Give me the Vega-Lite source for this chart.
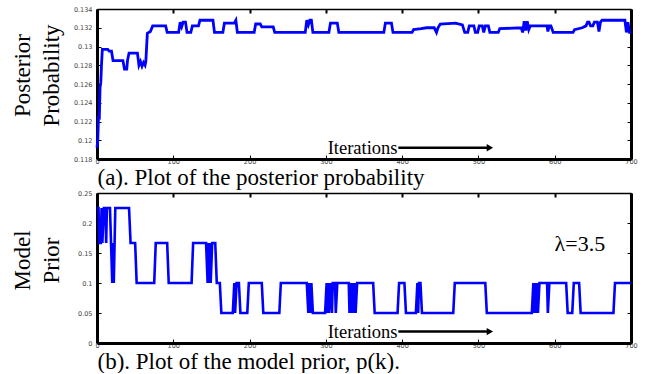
{
  "$schema": "https://vega.github.io/schema/vega-lite/v6.json",
  "background": "white",
  "padding": {"left": 11, "top": 6, "right": 0, "bottom": 0},
  "spacing": 34,
  "bounds": "flush",
  "config": {
    "view": {"stroke": null},
    "axis": {
      "grid": false,
      "domainColor": "black",
      "tickColor": "black",
      "labelFont": "DejaVu Sans",
      "labelFontSize": 6.5,
      "labelColor": "#444",
      "labelFlush": false,
      "titleFont": "Liberation Serif",
      "titleFontWeight": "normal",
      "titleColor": "black"
    }
  },
  "datasets": {
    "posterior": [
      {"iter": 0, "p": 0.1192}, {"iter": 1, "p": 0.1200}, {"iter": 2, "p": 0.1226}, {"iter": 3, "p": 0.1222},
      {"iter": 4, "p": 0.1256}, {"iter": 5, "p": 0.1262}, {"iter": 6, "p": 0.1282},
      {"iter": 7, "p": 0.1297}, {"iter": 14, "p": 0.1297}, {"iter": 16, "p": 0.1295}, {"iter": 19, "p": 0.1295},
      {"iter": 21, "p": 0.1285}, {"iter": 34, "p": 0.1285}, {"iter": 36, "p": 0.1276}, {"iter": 39, "p": 0.1276},
      {"iter": 40, "p": 0.1285}, {"iter": 42, "p": 0.1293}, {"iter": 53, "p": 0.1293}, {"iter": 55, "p": 0.1280},
      {"iter": 57, "p": 0.1284}, {"iter": 59, "p": 0.1279}, {"iter": 61, "p": 0.1283}, {"iter": 63, "p": 0.1280},
      {"iter": 64, "p": 0.1284}, {"iter": 66, "p": 0.1314}, {"iter": 70, "p": 0.1316}, {"iter": 73, "p": 0.1322},
      {"iter": 90, "p": 0.1322}, {"iter": 92, "p": 0.1315}, {"iter": 107, "p": 0.1315}, {"iter": 109, "p": 0.1326},
      {"iter": 111, "p": 0.1321}, {"iter": 113, "p": 0.1326}, {"iter": 116, "p": 0.1326}, {"iter": 118, "p": 0.1315},
      {"iter": 123, "p": 0.1315}, {"iter": 125, "p": 0.1322}, {"iter": 133, "p": 0.1322}, {"iter": 135, "p": 0.1328},
      {"iter": 152, "p": 0.1328}, {"iter": 154, "p": 0.1315}, {"iter": 165, "p": 0.1315}, {"iter": 167, "p": 0.1325},
      {"iter": 180, "p": 0.1325}, {"iter": 182, "p": 0.1328}, {"iter": 184, "p": 0.1315}, {"iter": 206, "p": 0.1315},
      {"iter": 208, "p": 0.1324}, {"iter": 214, "p": 0.1324}, {"iter": 216, "p": 0.1321}, {"iter": 231, "p": 0.1321},
      {"iter": 233, "p": 0.1315}, {"iter": 273, "p": 0.1315}, {"iter": 275, "p": 0.1328}, {"iter": 277, "p": 0.1323},
      {"iter": 279, "p": 0.1328}, {"iter": 281, "p": 0.1328}, {"iter": 283, "p": 0.1315}, {"iter": 304, "p": 0.1315},
      {"iter": 306, "p": 0.1325}, {"iter": 315, "p": 0.1325}, {"iter": 317, "p": 0.1315}, {"iter": 376, "p": 0.1315},
      {"iter": 378, "p": 0.1325}, {"iter": 386, "p": 0.1325}, {"iter": 388, "p": 0.1315}, {"iter": 413, "p": 0.1315},
      {"iter": 415, "p": 0.1318}, {"iter": 425, "p": 0.1319}, {"iter": 432, "p": 0.1320}, {"iter": 442, "p": 0.1320},
      {"iter": 445, "p": 0.1315}, {"iter": 447, "p": 0.1320}, {"iter": 450, "p": 0.1324}, {"iter": 470, "p": 0.1325},
      {"iter": 479, "p": 0.1323}, {"iter": 482, "p": 0.1315}, {"iter": 486, "p": 0.1315}, {"iter": 488, "p": 0.1322},
      {"iter": 494, "p": 0.1322}, {"iter": 496, "p": 0.1315}, {"iter": 499, "p": 0.1315}, {"iter": 501, "p": 0.1322},
      {"iter": 505, "p": 0.1322}, {"iter": 507, "p": 0.1315}, {"iter": 509, "p": 0.1322}, {"iter": 513, "p": 0.1322},
      {"iter": 515, "p": 0.1315}, {"iter": 526, "p": 0.1315}, {"iter": 528, "p": 0.1319}, {"iter": 556, "p": 0.1320},
      {"iter": 558, "p": 0.1315}, {"iter": 560, "p": 0.1327}, {"iter": 562, "p": 0.1317}, {"iter": 564, "p": 0.1327},
      {"iter": 566, "p": 0.1318}, {"iter": 568, "p": 0.1322}, {"iter": 590, "p": 0.1322}, {"iter": 591, "p": 0.1316},
      {"iter": 593, "p": 0.1322}, {"iter": 595, "p": 0.1322}, {"iter": 598, "p": 0.1315}, {"iter": 624, "p": 0.1315},
      {"iter": 626, "p": 0.1318}, {"iter": 636, "p": 0.1320}, {"iter": 641, "p": 0.1322}, {"iter": 643, "p": 0.1326},
      {"iter": 645, "p": 0.1326}, {"iter": 647, "p": 0.1322}, {"iter": 650, "p": 0.1322}, {"iter": 652, "p": 0.1326},
      {"iter": 656, "p": 0.1326}, {"iter": 658, "p": 0.1316}, {"iter": 660, "p": 0.1326}, {"iter": 662, "p": 0.1328},
      {"iter": 692, "p": 0.1328}, {"iter": 694, "p": 0.1315}, {"iter": 696, "p": 0.1326}, {"iter": 698, "p": 0.1315},
      {"iter": 700, "p": 0.1315}
    ],
    "prior": [
      {"iter": 0, "p": 0.225}, {"iter": 2, "p": 0.225}, {"iter": 3, "p": 0.1667}, {"iter": 5, "p": 0.1667},
      {"iter": 6, "p": 0.225}, {"iter": 7, "p": 0.1667}, {"iter": 9, "p": 0.225}, {"iter": 11, "p": 0.225},
      {"iter": 12, "p": 0.1667}, {"iter": 13, "p": 0.225}, {"iter": 17, "p": 0.225}, {"iter": 20, "p": 0.1},
      {"iter": 21, "p": 0.1667}, {"iter": 22, "p": 0.1}, {"iter": 24, "p": 0.225}, {"iter": 42, "p": 0.225},
      {"iter": 44, "p": 0.1667}, {"iter": 50, "p": 0.1667}, {"iter": 52, "p": 0.1}, {"iter": 75, "p": 0.1},
      {"iter": 77, "p": 0.1667}, {"iter": 92, "p": 0.1667}, {"iter": 94, "p": 0.1}, {"iter": 124, "p": 0.1},
      {"iter": 126, "p": 0.1667}, {"iter": 143, "p": 0.1667}, {"iter": 145, "p": 0.1}, {"iter": 146, "p": 0.1667},
      {"iter": 147, "p": 0.1}, {"iter": 148, "p": 0.1667}, {"iter": 149, "p": 0.1}, {"iter": 151, "p": 0.1667},
      {"iter": 155, "p": 0.1667}, {"iter": 157, "p": 0.1}, {"iter": 161, "p": 0.1}, {"iter": 163, "p": 0.05},
      {"iter": 178, "p": 0.05}, {"iter": 180, "p": 0.1}, {"iter": 181, "p": 0.05}, {"iter": 183, "p": 0.1},
      {"iter": 186, "p": 0.1}, {"iter": 188, "p": 0.05}, {"iter": 197, "p": 0.05}, {"iter": 199, "p": 0.1},
      {"iter": 216, "p": 0.1}, {"iter": 218, "p": 0.05}, {"iter": 239, "p": 0.05}, {"iter": 241, "p": 0.1},
      {"iter": 275, "p": 0.1}, {"iter": 277, "p": 0.05}, {"iter": 278, "p": 0.1}, {"iter": 280, "p": 0.05},
      {"iter": 281, "p": 0.1}, {"iter": 283, "p": 0.05}, {"iter": 299, "p": 0.05}, {"iter": 301, "p": 0.1},
      {"iter": 302, "p": 0.05}, {"iter": 303, "p": 0.1}, {"iter": 304, "p": 0.05}, {"iter": 306, "p": 0.1},
      {"iter": 308, "p": 0.05}, {"iter": 309, "p": 0.1}, {"iter": 312, "p": 0.1}, {"iter": 313, "p": 0.05},
      {"iter": 315, "p": 0.1}, {"iter": 330, "p": 0.1}, {"iter": 331, "p": 0.05}, {"iter": 332, "p": 0.1},
      {"iter": 334, "p": 0.05}, {"iter": 335, "p": 0.1}, {"iter": 337, "p": 0.05}, {"iter": 338, "p": 0.1},
      {"iter": 339, "p": 0.05}, {"iter": 341, "p": 0.1}, {"iter": 362, "p": 0.1}, {"iter": 364, "p": 0.05},
      {"iter": 394, "p": 0.05}, {"iter": 396, "p": 0.1}, {"iter": 403, "p": 0.1}, {"iter": 405, "p": 0.05},
      {"iter": 418, "p": 0.05}, {"iter": 420, "p": 0.1}, {"iter": 421, "p": 0.05}, {"iter": 422, "p": 0.1},
      {"iter": 424, "p": 0.1}, {"iter": 426, "p": 0.05}, {"iter": 467, "p": 0.05}, {"iter": 469, "p": 0.1},
      {"iter": 509, "p": 0.1}, {"iter": 511, "p": 0.05}, {"iter": 570, "p": 0.05}, {"iter": 572, "p": 0.1},
      {"iter": 573, "p": 0.05}, {"iter": 574, "p": 0.1}, {"iter": 575, "p": 0.05}, {"iter": 577, "p": 0.1},
      {"iter": 578, "p": 0.05}, {"iter": 580, "p": 0.1}, {"iter": 590, "p": 0.1}, {"iter": 591, "p": 0.05},
      {"iter": 593, "p": 0.1}, {"iter": 615, "p": 0.1}, {"iter": 617, "p": 0.05}, {"iter": 623, "p": 0.05},
      {"iter": 625, "p": 0.1}, {"iter": 632, "p": 0.1}, {"iter": 634, "p": 0.05}, {"iter": 677, "p": 0.05},
      {"iter": 679, "p": 0.1}, {"iter": 700, "p": 0.1}
    ]
  },
  "vconcat": [
    {
      "width": 534,
      "height": 150,
      "resolve": {"axis": {"x": "independent", "y": "independent"}},
      "layer": [
        {
          "data": {"name": "posterior"},
          "mark": {"type": "line", "color": "#0000ff", "strokeWidth": 2.8},
          "encoding": {
            "x": {"field": "iter", "type": "quantitative", "scale": {"domain": [0, 700], "nice": false},
                  "axis": {"orient": "bottom", "values": [0, 100, 200, 300, 400, 500, 600, 700], "domainWidth": 3, "tickSize": -4,
                           "labelPadding": 3, "minExtent": 7, "maxExtent": 7,
                           "title": "(a). Plot of the posterior probability", "titleAnchor": "start", "titleFontSize": 23, "titlePadding": 0}},
            "y": {"field": "p", "type": "quantitative", "scale": {"domain": [0.118, 0.134], "zero": false, "nice": false},
                  "axis": {"orient": "left", "values": [0.118, 0.12, 0.122, 0.124, 0.126, 0.128, 0.13, 0.132, 0.134], "format": ".3~f", "domainWidth": 3, "tickSize": -4,
                           "labelPadding": 9, "minExtent": 30, "maxExtent": 30,
                           "title": ["Posterior", "Probability"], "titleFontSize": 23, "titleLineHeight": 29, "titlePadding": 4, "titleY": 66}}
          }
        },
        {
          "data": {"name": "posterior"},
          "mark": {"type": "line", "opacity": 0},
          "encoding": {
            "x": {"field": "iter", "type": "quantitative",
                  "axis": {"orient": "top", "values": [0, 100, 200, 300, 400, 500, 600, 700], "labels": false, "title": null, "domainWidth": 1.5, "tickSize": -4, "tickWidth": 2}},
            "y": {"field": "p", "type": "quantitative",
                  "axis": {"orient": "right", "values": [0.118, 0.12, 0.122, 0.124, 0.126, 0.128, 0.13, 0.132, 0.134], "labels": false, "title": null, "domainWidth": 3, "tickSize": -4}}
          }
        },
        {
          "data": {"values": [{}]},
          "mark": {"type": "text", "text": "Iterations", "font": "Liberation Serif", "fontSize": 18.5, "align": "right", "baseline": "middle", "color": "black"},
          "encoding": {"x": {"datum": 394, "type": "quantitative", "axis": null}, "y": {"datum": 0.1192, "type": "quantitative", "axis": null}}
        },
        {
          "data": {"values": [{}]},
          "mark": {"type": "rule", "color": "black", "strokeWidth": 2.5},
          "encoding": {"x": {"datum": 395, "type": "quantitative", "axis": null}, "x2": {"datum": 512}, "y": {"datum": 0.1192, "type": "quantitative", "axis": null}}
        },
        {
          "data": {"values": [{}]},
          "mark": {"type": "point", "shape": "triangle-right", "filled": true, "color": "black", "size": 55, "opacity": 1},
          "encoding": {"x": {"datum": 515, "type": "quantitative", "axis": null}, "y": {"datum": 0.1192, "type": "quantitative", "axis": null}}
        }
      ]
    },
    {
      "width": 534,
      "height": 150,
      "resolve": {"axis": {"x": "independent", "y": "independent"}},
      "layer": [
        {
          "data": {"name": "prior"},
          "mark": {"type": "line", "color": "#0000ff", "strokeWidth": 2.6},
          "encoding": {
            "x": {"field": "iter", "type": "quantitative", "scale": {"domain": [0, 700], "nice": false},
                  "axis": {"orient": "bottom", "values": [0, 100, 200, 300, 400, 500, 600, 700], "domainWidth": 3, "tickSize": -4,
                           "labelPadding": 3, "minExtent": 7, "maxExtent": 7,
                           "title": "(b). Plot of the model prior, p(k).", "titleAnchor": "start", "titleFontSize": 23, "titlePadding": 0}},
            "y": {"field": "p", "type": "quantitative", "scale": {"domain": [0, 0.25], "nice": false},
                  "axis": {"orient": "left", "values": [0, 0.05, 0.1, 0.15, 0.2, 0.25], "format": ".2~f", "domainWidth": 3, "tickSize": -4,
                           "labelPadding": 9, "minExtent": 30, "maxExtent": 30,
                           "title": ["Model", "Prior"], "titleFontSize": 23, "titleLineHeight": 29, "titlePadding": 4, "titleY": 67}}
          }
        },
        {
          "data": {"name": "prior"},
          "mark": {"type": "line", "opacity": 0},
          "encoding": {
            "x": {"field": "iter", "type": "quantitative",
                  "axis": {"orient": "top", "values": [0, 100, 200, 300, 400, 500, 600, 700], "labels": false, "title": null, "domainWidth": 1.5, "tickSize": -4, "tickWidth": 2}},
            "y": {"field": "p", "type": "quantitative",
                  "axis": {"orient": "right", "values": [0, 0.05, 0.1, 0.15, 0.2, 0.25], "labels": false, "title": null, "domainWidth": 3, "tickSize": -4}}
          }
        },
        {
          "data": {"values": [{}]},
          "mark": {"type": "text", "text": "Iterations", "font": "Liberation Serif", "fontSize": 18.5, "align": "right", "baseline": "middle", "color": "black"},
          "encoding": {"x": {"datum": 394, "type": "quantitative", "axis": null}, "y": {"datum": 0.019, "type": "quantitative", "axis": null}}
        },
        {
          "data": {"values": [{}]},
          "mark": {"type": "rule", "color": "black", "strokeWidth": 2.5},
          "encoding": {"x": {"datum": 395, "type": "quantitative", "axis": null}, "x2": {"datum": 512}, "y": {"datum": 0.019, "type": "quantitative", "axis": null}}
        },
        {
          "data": {"values": [{}]},
          "mark": {"type": "point", "shape": "triangle-right", "filled": true, "color": "black", "size": 55, "opacity": 1},
          "encoding": {"x": {"datum": 515, "type": "quantitative", "axis": null}, "y": {"datum": 0.019, "type": "quantitative", "axis": null}}
        },
        {
          "data": {"values": [{}]},
          "mark": {"type": "text", "text": "λ=3.5", "font": "Liberation Serif", "fontSize": 22, "align": "center", "baseline": "middle", "color": "black"},
          "encoding": {"x": {"datum": 633, "type": "quantitative", "axis": null}, "y": {"datum": 0.1658, "type": "quantitative", "axis": null}}
        }
      ]
    }
  ]
}
